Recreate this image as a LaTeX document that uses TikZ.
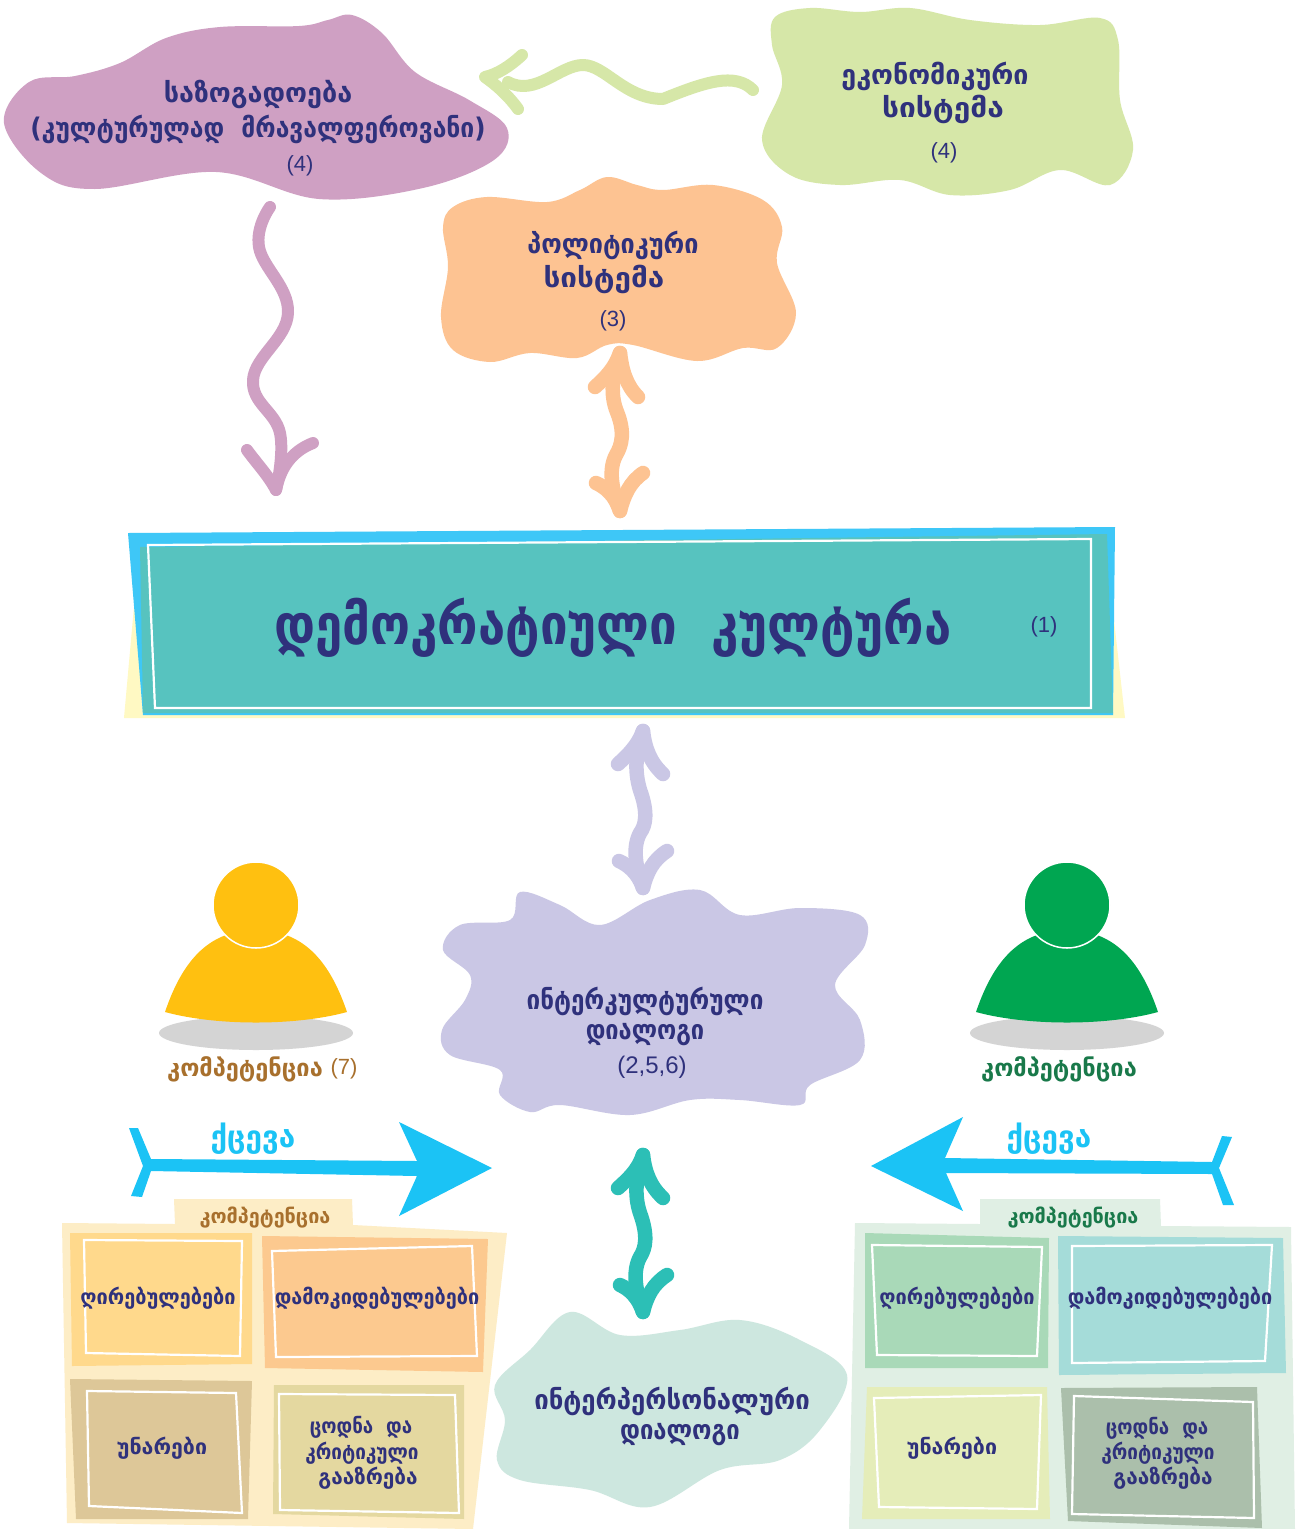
\documentclass[tikz,border=0pt]{standalone}
\usepackage{fontspec}
\usepackage{graphicx}
\newfontfamily\geo{DejaVu Sans Condensed}
\newfontfamily\nums{Liberation Sans}
\newcommand\sx[2]{\scalebox{#1}[1]{#2}}
\definecolor{ink}{HTML}{2F317C}
\definecolor{brownt}{HTML}{A8702D}
\definecolor{greent}{HTML}{19794A}
\definecolor{cyanx}{HTML}{1BC3F5}
\definecolor{cpurple}{HTML}{CFA0C3}
\definecolor{cgreen}{HTML}{D6E7A8}
\definecolor{corange}{HTML}{FDC392}
\definecolor{clilac}{HTML}{CAC7E5}
\definecolor{cmint}{HTML}{CDE7DF}
\definecolor{cteal}{HTML}{2CBFB6}
\tikzset{
 geob/.style={font=\geo\bfseries\fontsize{#1}{#1}\selectfont,text=ink,inner sep=0pt,anchor=center},
 numt/.style={font=\nums\fontsize{#1}{#1}\selectfont,text=ink,inner sep=0pt,anchor=center},
 wave/.style={draw=#1,line width=12pt,line cap=round,line join=round},
 wavethick/.style={draw=#1,line width=14.5pt,line cap=round,line join=round},
 frameline/.style={draw=white,line width=2.2pt,fill=none},
}
\begin{document}
\begin{tikzpicture}[x=1pt,y=-1pt]
\useasboundingbox (0,0) rectangle (1299,1529);
\fill[white] (0,0) rectangle (1299,1529);
% clouds
\fill[cpurple] plot[smooth cycle,tension=0.6] coordinates {(352,15)(382,33)(415,72)(469,100)(507,128)(494,160)(423,188)(319,199)(216,172)(95,189)(41,173)(4,123)(29,82)(75,76)(120,63)(166,38)(220,27)(299,26)(328,20)};
\fill[cgreen] plot[smooth cycle,tension=0.6] coordinates {(860,12)(810,8)(775,17)(772,45)(782,85)(762,140)(790,175)(840,185)(900,180)(950,195)(1010,190)(1060,170)(1110,185)(1133,150)(1120,100)(1118,40)(1100,18)(1040,25)(970,20)(910,8)};
\fill[corange] plot[smooth cycle,tension=0.6] coordinates {(607,177)(580,190)(547,202)(487,197)(453,207)(443,227)(448,267)(441,317)(453,350)(490,362)(530,353)(577,358)(607,345)(633,345)(697,361)(743,348)(777,348)(796,313)(777,263)(782,227)(763,200)(713,185)(663,190)(637,185)};
\fill[clilac] plot[smooth cycle,tension=0.6] coordinates {(520,892)(560,905)(600,925)(650,900)(700,890)(740,915)(800,908)(860,915)(865,945)(835,985)(860,1020)(860,1060)(810,1085)(800,1105)(740,1100)(690,1100)(630,1115)(560,1105)(530,1112)(500,1095)(500,1070)(450,1055)(442,1030)(465,1000)(470,975)(443,950)(460,925)(510,920)};
\fill[cmint] plot[smooth cycle,tension=0.6] coordinates {(570,1312)(620,1335)(680,1330)(740,1320)(800,1340)(847,1375)(820,1430)(780,1460)(720,1470)(650,1507)(590,1490)(520,1480)(497,1460)(505,1420)(495,1385)(530,1350)};
% main box
\fill[fill={rgb,255:red,255;green,249;blue,195}] (140,540)--(1105,540)--(1125,718)--(124,718)--cycle;
\fill[fill={rgb,255:red,62;green,199;blue,247}] (128,533)--(1115,527)--(1113,715)--(143,715)--cycle;
\fill[fill={rgb,255:red,87;green,195;blue,191}] (140,547)--(1107,534)--(1113,713)--(143,713)--cycle;
\draw[frameline] (148,545)--(1091,539)--(1091,708)--(155,708)--cycle;
% person figures
\foreach \cx/\col/\nm in {256/FFC010/L,1067/00A651/R}{
 \fill[fill={rgb,255:red,212;green,212;blue,212}] (\cx,1033) ellipse [x radius=97,y radius=17];
 \definecolor{pc}{HTML}{\col}
 \fill[pc] (\cx-91,1012) .. controls (\cx-75,965) and (\cx-50,930) .. (\cx,930) .. controls (\cx+50,930) and (\cx+75,965) .. (\cx+91,1012) .. controls (\cx+40,1026) and (\cx-40,1026) .. cycle;
 \node[circle,fill=pc,draw=white,line width=1.5pt,minimum size=86pt,inner sep=0pt] (head\nm) at (\cx,905) {};
}
% left panel
\fill[fill={rgb,255:red,253;green,237;blue,198}] (62,1223)--(175,1224)--(174,1199)--(352,1199)--(353,1225)--(507,1233)--(473,1529)--(67,1523)--cycle;
\fill[fill={rgb,255:red,255;green,217;blue,140}] (70,1233)--(252,1233)--(252,1364)--(72,1366)--cycle;
\draw[frameline] (84,1240)--(242,1241)--(240,1356)--(86,1353)--cycle;
\fill[fill={rgb,255:red,252;green,201;blue,143}] (262,1236)--(488,1239)--(483,1372)--(265,1368)--cycle;
\draw[frameline] (272,1251)--(472,1246)--(477,1356)--(276,1357)--cycle;
\fill[fill={rgb,255:red,221;green,199;blue,152}] (70,1379)--(252,1381)--(248,1519)--(76,1519)--cycle;
\draw[frameline] (87,1391)--(236,1393)--(242,1513)--(89,1506)--cycle;
\fill[fill={rgb,255:red,228;green,216;blue,160}] (274,1385)--(464,1385)--(464,1519)--(273,1514)--cycle;
\draw[frameline] (279,1394)--(455,1395)--(459,1513)--(280,1510)--cycle;
% right panel
\fill[fill={rgb,255:red,224;green,239;blue,228}] (855,1223)--(980,1224)--(980,1199)--(1160,1199)--(1161,1226)--(1291,1227)--(1295,1529)--(849,1529)--cycle;
\fill[fill={rgb,255:red,169;green,217;blue,184}] (865,1233)--(1049,1238)--(1048,1368)--(865,1368)--cycle;
\draw[frameline] (872,1245)--(1042,1247)--(1037,1356)--(877,1355)--cycle;
\fill[fill={rgb,255:red,165;green,220;blue,217}] (1058,1236)--(1283,1238)--(1286,1373)--(1059,1375)--cycle;
\draw[frameline] (1072,1246)--(1272,1245)--(1265,1361)--(1072,1363)--cycle;
\fill[fill={rgb,255:red,229;green,237;blue,185}] (867,1387)--(1047,1387)--(1050,1519)--(862,1519)--cycle;
\draw[frameline] (874,1398)--(1041,1395)--(1037,1509)--(879,1507)--cycle;
\fill[fill={rgb,255:red,171;green,191;blue,171}] (1061,1388)--(1257,1387)--(1262,1528)--(1068,1521)--cycle;
\draw[frameline] (1074,1396)--(1253,1402)--(1254,1518)--(1072,1514)--cycle;
% behaviour arrows
\fill[cyanx] (129,1128)--(138,1128)--(151,1159)--(417,1161)--(399,1122)--(492,1168)--(399,1216)--(417,1176)--(151,1171)--(142,1197)--(131,1196)--(143,1166)--cycle;
\fill[cyanx] (871,1166)--(963,1117)--(945,1158)--(1212,1162)--(1222,1136)--(1232,1137)--(1219,1168)--(1234,1205)--(1223,1205)--(1212,1174)--(946,1173)--(963,1211)--cycle;
% text nodes
\node[geob=27] (socA) at (258,94) {\sx{1.11}{საზოგადოება}};
\node[geob=27] (socB) at (258,129) {\sx{1.017}{(კულტურულად\ \ მრავალფეროვანი)}};
\node[numt=22] (socN) at (300,166) {(4)};
\node[geob=27] (ecoA) at (935,76) {\sx{1.105}{ეკონომიკური}};
\node[geob=27] (ecoB) at (943,109) {\sx{1.23}{სისტემა}};
\node[numt=22] (ecoN) at (944,153) {(4)};
\node[geob=27] (polA) at (613,245) {\sx{1.036}{პოლიტიკური}};
\node[geob=27] (polB) at (604,279) {\sx{1.22}{სისტემა}};
\node[numt=22] (polN) at (613,321) {(3)};
\node[geob=56] (main) at (613,628) {\sx{0.975}{დემოკრატიული\ \ კულტურა}};
\node[numt=22] (mainN) at (1044,627) {(1)};
\node[geob=27] (diaA) at (645,1001) {\sx{0.997}{ინტერკულტურული}};
\node[geob=27] (diaB) at (645,1035) {\sx{0.97}{დიალოგი}};
\node[numt=24] (diaN) at (652,1067) {(2,5,6)};
\node[geob=27] (intA) at (672,1401) {\sx{1.06}{ინტერპერსონალური}};
\node[geob=27] (intB) at (680,1435) {\sx{0.98}{დიალოგი}};
\node[geob=24,text=brownt] (compL) at (245,1069) {\sx{1.09}{კომპეტენცია}};
\node[numt=22,text=brownt] (compN) at (344,1069) {(7)};
\node[geob=24,text=greent] (compR) at (1059,1069) {\sx{1.09}{კომპეტენცია}};
\node[geob=30,text=cyanx] (behL) at (253,1139) {\sx{1.1}{ქცევა}};
\node[geob=30,text=cyanx] (behR) at (1049,1139) {\sx{1.1}{ქცევა}};
\node[geob=20,text=brownt] (panL) at (265,1218) {\sx{1.1}{კომპეტენცია}};
\node[geob=20,text=greent] (panR) at (1073,1218) {\sx{1.1}{კომპეტენცია}};
\node[geob=21] (valL) at (158,1298) {\sx{1.055}{ღირებულებები}};
\node[geob=21] (attL) at (377,1298) {\sx{1.05}{დამოკიდებულებები}};
\node[geob=21] (skiL) at (162,1448) {\sx{1.13}{უნარები}};
\node[geob=21] (knoLa) at (361,1427) {\sx{0.99}{ცოდნა\ \ და}};
\node[geob=21] (knoLb) at (362,1453) {კრიტიკული};
\node[geob=21] (knoLc) at (368,1478) {\sx{1.1}{გააზრება}};
\node[geob=21] (valR) at (957,1298) {\sx{1.055}{ღირებულებები}};
\node[geob=21] (attR) at (1170,1298) {\sx{1.05}{დამოკიდებულებები}};
\node[geob=21] (skiR) at (952,1448) {\sx{1.13}{უნარები}};
\node[geob=21] (knoRa) at (1157,1428) {\sx{0.99}{ცოდნა\ \ და}};
\node[geob=21] (knoRb) at (1158,1453) {კრიტიკული};
\node[geob=21] (knoRc) at (1163,1478) {\sx{1.1}{გააზრება}};
% connector ends
\coordinate (socOut) at (270,207); \coordinate (cultInA) at (276,490);
\coordinate (ecoOut) at (753,90); \coordinate (socIn) at (485,77);
\coordinate (polEnd) at (620,353); \coordinate (cultInB) at (620,511);
\coordinate (cultOut) at (643,731); \coordinate (diaIn) at (643,888);
\coordinate (diaOut) at (643,1155); \coordinate (intIn) at (643,1312);
% wavy connectors
\draw[wave=cpurple] plot[smooth,tension=0.7] coordinates {(socOut)(259,247)(288,313)(253,380)(280,433)(cultInA)};
\draw[wave=cpurple] (247,450) .. controls (258,465) and (268,475) .. (cultInA) .. controls (280,470) and (290,452) .. (313,443);
\draw[wave=cgreen] (ecoOut) .. controls (735,72) and (705,82) .. (663,99) .. controls (625,99) and (605,65) .. (583,65) .. controls (560,65) and (535,97) .. (508,82);
\draw[wave=cgreen] (522,55) .. controls (510,66) and (498,74) .. (socIn) .. controls (495,84) and (508,95) .. (518,109);
\draw[wavethick=corange] (polEnd) .. controls (612,375) and (610,395) .. (617,412) .. controls (625,432) and (622,445) .. (616,455) .. controls (608,470) and (612,490) .. (cultInB);
\draw[wavethick=corange] (595,387) .. controls (605,378) and (615,368) .. (polEnd) .. controls (622,370) and (626,385) .. (638,397);
\draw[wavethick=corange] (596,483) .. controls (605,487) and (615,495) .. (cultInB) .. controls (624,495) and (630,482) .. (643,473);
\draw[wavethick=clilac] (cultOut) .. controls (636,752) and (634,770) .. (640,790) .. controls (648,812) and (646,825) .. (640,833) .. controls (632,848) and (636,868) .. (diaIn);
\draw[wavethick=clilac] (618,764) .. controls (628,755) and (638,745) .. (cultOut) .. controls (645,748) and (650,762) .. (663,774);
\draw[wavethick=clilac] (619,861) .. controls (628,865) and (638,873) .. (diaIn) .. controls (647,872) and (653,860) .. (667,851);
\draw[wavethick=cteal] (diaOut) .. controls (636,1176) and (634,1195) .. (640,1213) .. controls (648,1235) and (646,1248) .. (640,1257) .. controls (632,1272) and (636,1292) .. (intIn);
\draw[wavethick=cteal] (618,1188) .. controls (628,1179) and (638,1170) .. (diaOut) .. controls (645,1172) and (650,1186) .. (663,1198);
\draw[wavethick=cteal] (620,1285) .. controls (629,1289) and (638,1297) .. (intIn) .. controls (647,1296) and (653,1284) .. (667,1275);
\end{tikzpicture}
\end{document}
